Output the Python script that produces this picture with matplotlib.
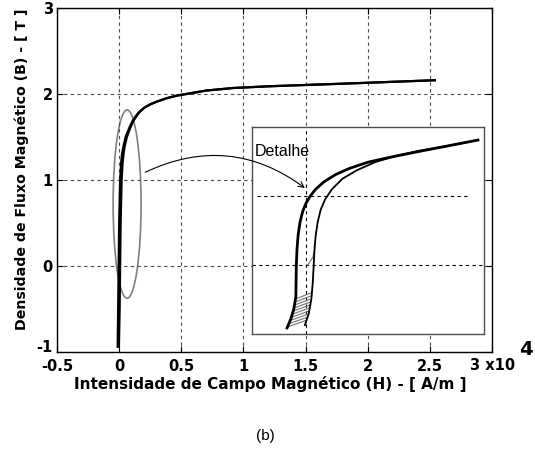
import matplotlib
matplotlib.use("Agg")
import matplotlib.pyplot as plt
from matplotlib.patches import Ellipse
from matplotlib.transforms import ScaledTranslation

# main B-H curve (H in 1e4 A/m, B in T)
b_main = [-0.94, -0.5, 0.0, 0.5, 1.0, 1.2, 1.31, 1.4, 1.5, 1.6, 1.68, 1.73, 1.77, 1.8,
          1.84, 1.88, 1.91, 1.95, 1.98, 2.0, 2.04, 2.07, 2.09, 2.12, 2.16]
h_main_desc = [-0.012, -0.008, -0.004, 0.0, 0.008, 0.016, 0.024, 0.036, 0.052, 0.08, 0.105,
               0.128, 0.148, 0.168, 0.2, 0.25, 0.3, 0.38, 0.46, 0.54, 0.7, 0.92, 1.21, 1.8, 2.54]
h_main_asc = [-0.002, 0.004, 0.008, 0.012, 0.02, 0.028, 0.036, 0.046, 0.062, 0.088, 0.112,
              0.134, 0.153, 0.172, 0.203, 0.252, 0.302, 0.381, 0.46, 0.54, 0.7, 0.92, 1.21, 1.8, 2.54]

# detail (inset), normalised inset units
det_left_x = [0.974, 0.85, 0.72, 0.60, 0.50, 0.42, 0.36, 0.31, 0.275, 0.25, 0.232, 0.218,
              0.207, 0.199, 0.194, 0.191, 0.190, 0.189, 0.18, 0.168, 0.151]
det_left_y = [0.937, 0.91, 0.882, 0.855, 0.83, 0.80, 0.77, 0.735, 0.70, 0.665, 0.63, 0.59,
              0.54, 0.48, 0.41, 0.33, 0.25, 0.18, 0.12, 0.075, 0.029]
det_right_x = [0.228, 0.245, 0.256, 0.262, 0.266, 0.27, 0.275, 0.283, 0.296, 0.315, 0.345,
               0.39, 0.45, 0.53, 0.62, 0.72, 0.85, 0.974]
det_right_y = [0.043, 0.10, 0.17, 0.25, 0.333, 0.42, 0.48, 0.54, 0.60, 0.65, 0.70, 0.75,
               0.79, 0.83, 0.86, 0.885, 0.91, 0.937]
minor_y = [0.035, 0.05, 0.065, 0.08, 0.095, 0.11, 0.125, 0.14, 0.155, 0.17]
minor_x0 = [0.155, 0.160, 0.164, 0.168, 0.172, 0.176, 0.180, 0.184, 0.187, 0.189]
minor_x1 = [0.232, 0.236, 0.240, 0.243, 0.246, 0.249, 0.252, 0.255, 0.257, 0.259]

xticks = [-0.5, 0, 0.5, 1, 1.5, 2, 2.5, 3]
xtick_labels = ["-0.5", "0", "0.5", "1", "1.5", "2", "2.5", ""]
yticks = [-1, 0, 1, 2, 3]

plt.rcParams["font.family"] = ["DejaVu Sans"]
plt.rcParams["axes.unicode_minus"] = False

fig = plt.figure(figsize=(5.35, 4.5), dpi=100)
W, H = 535, 450
ax = fig.add_axes([57 / W, 1 - 352 / H, 435 / W, 344 / H])

ax.plot(h_main_desc, b_main, color="black", lw=1.6)
ax.plot(h_main_asc, b_main, color="black", lw=1.6)
ax.add_patch(Ellipse((0.064, 0.72), 0.225, 2.19, fill=False, edgecolor="0.5", lw=1.2))

ax.set_xlim(-0.5, 3)
ax.set_ylim(-1, 3)
ax.set_xticks(xticks)
ax.set_xticklabels(xtick_labels)
ax.set_yticks(yticks)
ax.grid(True, linestyle=(0, (3, 3)), color="0.3", lw=0.8)
ax.tick_params(direction="in", top=True, right=True, length=4, width=0.8,
               labelsize=10.5)
ax.tick_params(axis="x", pad=5)
ax.tick_params(axis="y", pad=3)
for lab in ax.get_xticklabels() + ax.get_yticklabels():
    lab.set_fontweight("bold")
# MATLAB puts the lowest y label slightly higher, clear of "-0.5"
low = ax.get_yticklabels()[0]
low.set_transform(low.get_transform() + ScaledTranslation(0, 4 / 72, fig.dpi_scale_trans))
for sp in ax.spines.values():
    sp.set_linewidth(1.0)
ax.set_xlabel("Intensidade de Campo Magnético (H) - [ A/m ]", fontsize=11,
              fontweight="bold")
ax.xaxis.set_label_coords(0.49, -0.07)
ax.set_ylabel("Densidade de Fluxo Magnético (B) - [ T ]", fontsize=10.2,
              fontweight="bold")
ax.yaxis.set_label_coords(-0.064, 0.532)

fig.text(470 / W, 1 - 370 / H, "3 x10", fontsize=10.5, fontweight="bold", ha="left", va="baseline")
fig.text(519 / W, 1 - 355 / H, "4", fontsize=14, fontweight="bold", ha="left", va="baseline")
fig.text(265 / W, 1 - 436 / H, "(b)", fontsize=11, family="Liberation Sans", ha="center", va="center")

# inset "Detalhe"
axi = fig.add_axes([252 / W, 1 - 334 / H, 232 / W, 207 / H])
axi.set_xlim(0, 1)
axi.set_ylim(0, 1)
axi.set_xticks([])
axi.set_yticks([])
for sp in axi.spines.values():
    sp.set_edgecolor("0.3")
    sp.set_linewidth(1.0)
axi.axvline(0.233, color="black", lw=0.8, linestyle=(0, (3, 3)))
axi.axhline(0.333, color="black", lw=0.8, linestyle=(0, (3, 3)))
axi.plot([0.02, 0.94], [0.667, 0.667], color="black", lw=0.8, linestyle=(0, (3, 3)))

for x0, x1, y in zip(minor_x0, minor_x1, minor_y):
    axi.plot([x0, x1], [y, y + 0.03], color="0.45", lw=0.8)
axi.plot([0.272, 0.262, 0.240], [0.42, 0.37, 0.333], color="0.45", lw=0.8)
axi.plot(det_left_x, det_left_y, color="black", lw=2.0)
axi.plot(det_right_x, det_right_y, color="black", lw=1.3)

axi.text(0.012, 0.88, "Detalhe", fontsize=11.5, family="Liberation Sans", ha="left", va="center")
axi.annotate("", xy=(0.228, 0.705), xycoords="data",
             xytext=(0.21, 1.09), textcoords=ax.transData,
             arrowprops=dict(arrowstyle="->", color="black", lw=0.8,
                             connectionstyle="arc3,rad=-0.3",
                             shrinkA=0, shrinkB=0),
             annotation_clip=False)

fig.savefig("out.png", dpi=100)
